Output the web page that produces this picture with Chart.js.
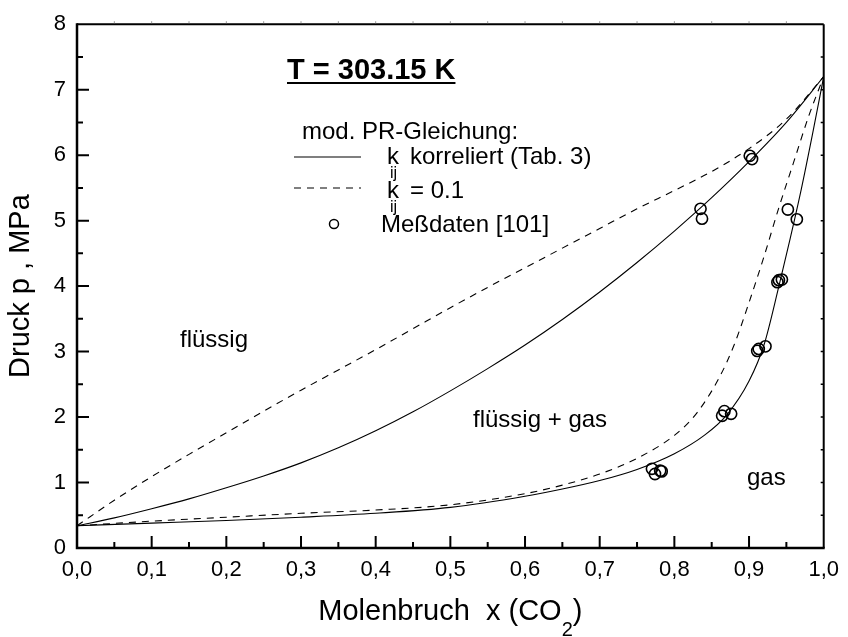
<!DOCTYPE html>
<html>
<head>
<meta charset="utf-8">
<script src="https://cdn.jsdelivr.net/npm/chart.js@4.4.1/dist/chart.umd.min.js"></script>
<style>
  html, body { margin: 0; padding: 0; background: #fff; }
  canvas { display: block; }
</style>
</head>
<body>
<canvas id="chart" width="848" height="637"></canvas>
<script>
const FONT = '"Liberation Sans", Arial, Helvetica, sans-serif';

const X_TICK_LABELS = ["0,0", "0,1", "0,2", "0,3", "0,4", "0,5", "0,6", "0,7", "0,8", "0,9", "1,0"];
const Y_TICK_LABELS = ["0", "1", "2", "3", "4", "5", "6", "7", "8"];

// Siedelinie (Blasenpunkt), beide Modellvarianten
const X_BUBBLE = [0, 0.05, 0.1, 0.15, 0.2, 0.25, 0.3, 0.35, 0.4, 0.45, 0.5, 0.55, 0.6, 0.65, 0.7, 0.75, 0.8, 0.85, 0.9, 0.95, 1.0];
const P_BUBBLE_KORR = [0.34, 0.46, 0.60, 0.75, 0.92, 1.10, 1.30, 1.53, 1.79, 2.08, 2.40, 2.74, 3.10, 3.49, 3.91, 4.36, 4.84, 5.35, 5.90, 6.50, 7.20];
const P_BUBBLE_K01 = [0.34, 0.73, 1.09, 1.43, 1.76, 2.09, 2.41, 2.72, 3.03, 3.35, 3.67, 3.98, 4.28, 4.58, 4.88, 5.18, 5.46, 5.75, 6.10, 6.55, 7.20];

// Taulinie, kij korreliert
const X_DEW_KORR = [0, 0.1, 0.2, 0.3, 0.4, 0.5, 0.6, 0.65, 0.7, 0.75, 0.8, 0.84, 0.87, 0.9, 0.92, 0.94, 0.955, 0.97, 0.985, 1.0];
const P_DEW_KORR = [0.34, 0.38, 0.42, 0.47, 0.53, 0.62, 0.79, 0.90, 1.03, 1.20, 1.44, 1.72, 2.03, 2.55, 3.10, 4.00, 4.72, 5.48, 6.32, 7.20];

// Taulinie, kij = 0.1
const X_DEW_K01 = [0, 0.1, 0.2, 0.3, 0.4, 0.5, 0.6, 0.65, 0.7, 0.75, 0.8, 0.83, 0.86, 0.88, 0.9, 0.92, 0.94, 0.96, 0.98, 1.0];
const P_DEW_K01 = [0.34, 0.41, 0.47, 0.53, 0.58, 0.66, 0.83, 0.96, 1.13, 1.37, 1.72, 2.06, 2.60, 3.10, 3.75, 4.45, 5.20, 5.90, 6.60, 7.20];

// Meßdaten [101]
const X_MESS = [0.770, 0.774, 0.781, 0.783, 0.867, 0.864, 0.876, 0.913, 0.922, 0.911, 0.940, 0.944, 0.938, 0.952, 0.964, 0.835, 0.837, 0.901, 0.904];
const P_MESS = [1.21, 1.13, 1.18, 1.17, 2.09, 2.02, 2.05, 3.04, 3.08, 3.01, 4.09, 4.10, 4.06, 5.17, 5.02, 5.18, 5.03, 5.99, 5.94];

const DASH = [7, 6];

function pts(xs, ys) {
  return xs.map((x, i) => ({ x: x, y: ys[i] }));
}

function curve(xs, ys, dash) {
  return {
    data: pts(xs, ys),
    showLine: true,
    borderColor: "#000",
    borderWidth: 1.1,
    borderDash: dash,
    pointRadius: 0,
    cubicInterpolationMode: "monotone",
    fill: false
  };
}

// Rahmen mit Ticks nach innen (unten/links), kleine Ticks oben/rechts
const frame = {
  id: "frame",
  afterDatasetsDraw(chart) {
    const { ctx, chartArea: a, scales: { x, y } } = chart;
    ctx.save();
    ctx.strokeStyle = "#000";
    ctx.lineCap = "butt";

    ctx.lineWidth = 2;
    ctx.beginPath();
    ctx.moveTo(a.left, a.top); ctx.lineTo(a.right, a.top);
    ctx.moveTo(a.right, a.top); ctx.lineTo(a.right, a.bottom);
    ctx.stroke();

    ctx.lineWidth = 2.5;
    ctx.beginPath();
    ctx.moveTo(a.left, a.top - 1); ctx.lineTo(a.left, a.bottom);
    ctx.lineTo(a.right + 1, a.bottom);
    ctx.stroke();

    ctx.lineWidth = 2;
    ctx.beginPath();
    for (let i = 1; i < 20; i++) {
      const px = x.getPixelForValue(i / 20);
      const len = i % 2 === 0 ? 12 : 6;
      ctx.moveTo(px, a.bottom); ctx.lineTo(px, a.bottom - len);
    }
    for (let i = 1; i < 16; i++) {
      const py = y.getPixelForValue(i / 2);
      const len = i % 2 === 0 ? 12 : 6;
      ctx.moveTo(a.left, py); ctx.lineTo(a.left + len, py);
    }
    ctx.stroke();

    ctx.lineWidth = 1.5;
    ctx.beginPath();
    for (let i = 1; i < 16; i++) {
      const py = y.getPixelForValue(i / 2);
      ctx.moveTo(a.right, py); ctx.lineTo(a.right - 3, py);
    }
    ctx.stroke();

    ctx.strokeStyle = "#999";
    ctx.lineWidth = 1;
    ctx.beginPath();
    for (let i = 1; i < 20; i++) {
      const px = x.getPixelForValue(i / 20);
      ctx.moveTo(px, a.top - 1); ctx.lineTo(px, a.top - 3);
    }
    ctx.stroke();
    ctx.restore();
  }
};

// Legende, Bereichsbeschriftungen und x-Achsentitel mit Index
const labels = {
  id: "labels",
  afterDraw(chart) {
    const ctx = chart.ctx;
    const ds = chart.data.datasets;
    const txt = "24px " + FONT;
    ctx.save();
    ctx.fillStyle = "#000";
    ctx.strokeStyle = "#000";
    ctx.textBaseline = "alphabetic";
    ctx.textAlign = "left";

    ctx.font = "bold 29px " + FONT;
    const title = "T = 303.15 K";
    ctx.fillText(title, 287, 79);
    ctx.fillRect(287, 82, ctx.measureText(title).width, 2);

    ctx.font = txt;
    ctx.fillText("mod. PR-Gleichung:", 302, 139);

    function sample(yy, d) {
      ctx.save();
      ctx.lineWidth = d.borderWidth;
      ctx.setLineDash(d.borderDash || []);
      ctx.beginPath();
      ctx.moveTo(294, yy); ctx.lineTo(361, yy);
      ctx.stroke();
      ctx.restore();
    }
    function kij(xx, yy, rest) {
      ctx.font = txt;
      ctx.fillText("k", xx, yy);
      ctx.font = "16px " + FONT;
      ctx.fillText("ij", xx + 3, yy + 14);
      ctx.font = txt;
      ctx.fillText(rest, xx + 23, yy);
    }

    sample(157, ds[0]);
    kij(387, 164, "korreliert (Tab. 3)");
    sample(188, ds[1]);
    kij(387, 198, "= 0.1");

    ctx.lineWidth = 1.5;
    ctx.beginPath();
    ctx.arc(334, 224, 4.5, 0, Math.PI * 2);
    ctx.stroke();
    ctx.font = txt;
    ctx.fillText("Meßdaten [101]", 381, 232);

    ctx.fillText("flüssig", 180, 347);
    ctx.fillText("flüssig + gas", 473, 427);
    ctx.fillText("gas", 747, 485);

    // x-Achsentitel
    const big = "29px " + FONT, sub = "20px " + FONT;
    ctx.font = big;
    const t1 = "Molenbruch  x (CO", t3 = ")";
    const w1 = ctx.measureText(t1).width, w3 = ctx.measureText(t3).width;
    ctx.font = sub;
    const w2 = ctx.measureText("2").width;
    const a = chart.chartArea;
    const xx = (a.left + a.right) / 2 - (w1 + w2 + w3) / 2;
    const base = 620;
    ctx.font = big;
    ctx.fillText(t1, xx, base);
    ctx.font = sub;
    ctx.fillText("2", xx + w1, base + 16);
    ctx.font = big;
    ctx.fillText(t3, xx + w1 + w2, base);
    ctx.restore();
  }
};

const bubbleKorr = curve(X_BUBBLE, P_BUBBLE_KORR, []);
const bubbleK01 = curve(X_BUBBLE, P_BUBBLE_K01, DASH);
const dewKorr = curve(X_DEW_KORR, P_DEW_KORR, []);
const dewK01 = curve(X_DEW_K01, P_DEW_K01, DASH);

new Chart(document.getElementById("chart"), {
  type: "scatter",
  data: {
    datasets: [
      bubbleKorr,
      bubbleK01,
      dewKorr,
      dewK01,
      {
        data: pts(X_MESS, P_MESS),
        showLine: false,
        pointStyle: "circle",
        pointRadius: 5.6,
        pointBorderWidth: 1.6,
        borderColor: "#000",
        backgroundColor: "rgba(0,0,0,0)"
      }
    ]
  },
  options: {
    responsive: false,
    devicePixelRatio: 1,
    animation: false,
    layout: { padding: { left: 0, top: 20, right: 16, bottom: 0 } },
    plugins: {
      legend: { display: false },
      tooltip: { enabled: false }
    },
    scales: {
      x: {
        type: "linear",
        min: 0,
        max: 1,
        ticks: {
          stepSize: 0.1,
          color: "#000",
          font: { family: FONT, size: 22 },
          padding: 9,
          maxRotation: 0,
          callback: (v, i) => X_TICK_LABELS[i]
        },
        grid: { display: false, drawTicks: false },
        border: { display: false },
        afterFit: s => { s.height = 89; }
      },
      y: {
        type: "linear",
        min: 0,
        max: 8,
        ticks: {
          stepSize: 1,
          color: "#000",
          font: { family: FONT, size: 22 },
          padding: 11,
          callback: (v, i) => Y_TICK_LABELS[i]
        },
        grid: { display: false, drawTicks: false },
        border: { display: false },
        title: {
          display: true,
          text: "Druck p , MPa",
          color: "#000",
          font: { family: FONT, size: 29 },
          padding: { top: 4, bottom: 0 }
        },
        afterFit: s => { s.width = 77; }
      }
    }
  },
  plugins: [frame, labels]
});
</script>
</body>
</html>
